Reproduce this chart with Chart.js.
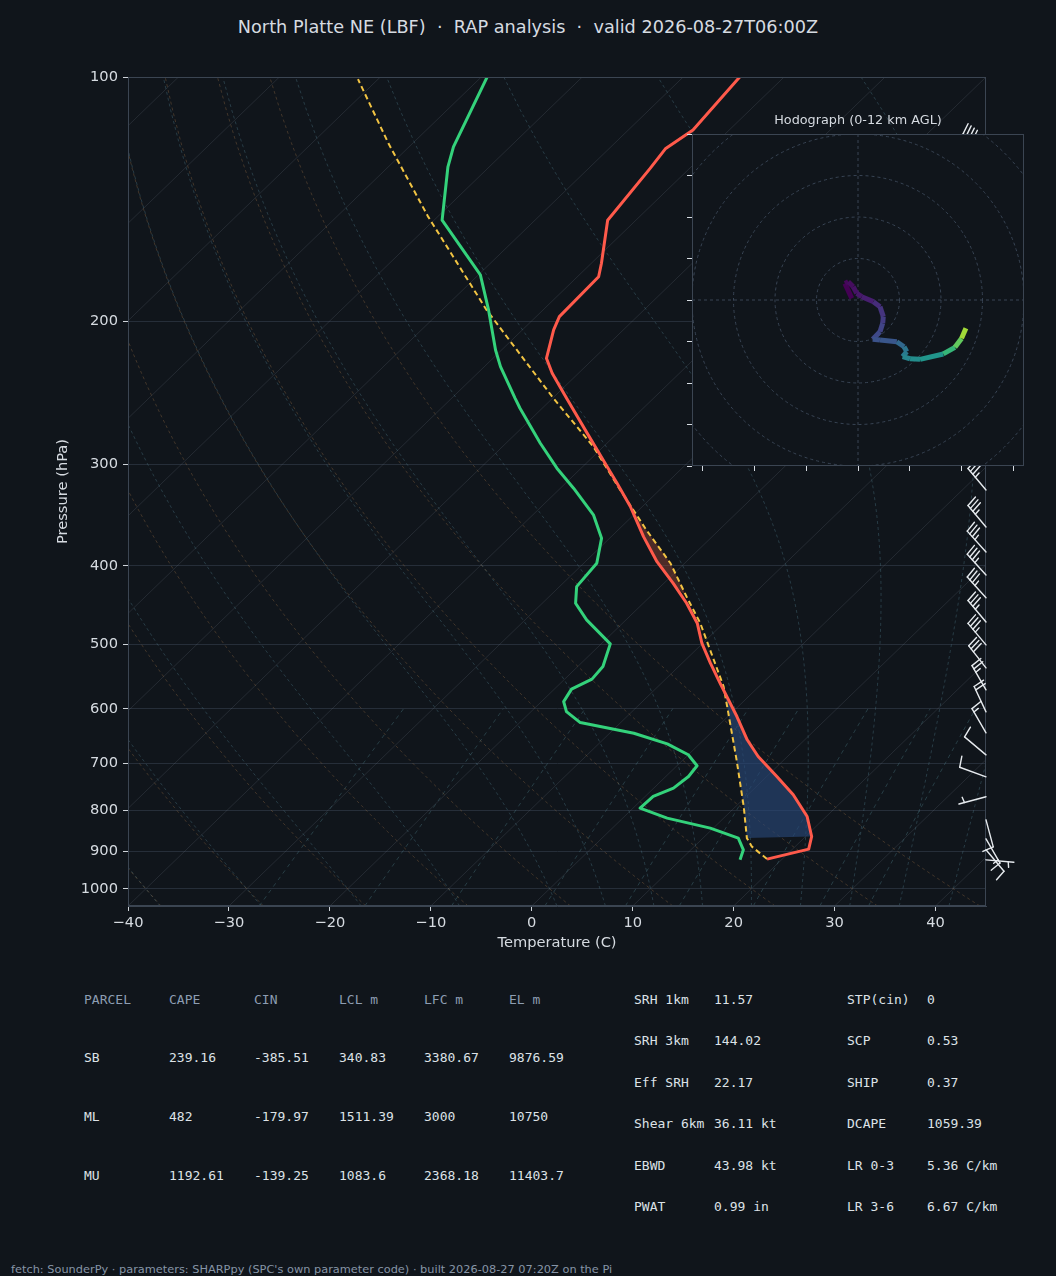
<!DOCTYPE html>
<html>
<head>
<meta charset="utf-8">
<title>Skew-T LBF</title>
<script src="https://cdn.jsdelivr.net/npm/chart.js@4.4.1/dist/chart.umd.min.js"></script>
<style>
  html, body { margin: 0; padding: 0; background: #10151b; }
  body { width: 1056px; height: 1276px; position: relative; overflow: hidden; font-family: "DejaVu Sans", sans-serif; color: #d6dbe1; }
  #title { position: absolute; left: 0; top: 16px; width: 1056px; text-align: center; font-size: 17.7px; line-height: 22px; white-space: pre; }
  #skew { position: absolute; left: 0; top: 0; }
  #hodo { position: absolute; left: 662px; top: 106px; }
  #hodoTitle { position: absolute; left: 708px; width: 300px; top: 112px; text-align: center; font-size: 12.8px; line-height: 16px; }
  .cell { position: absolute; font-family: "DejaVu Sans Mono", monospace; font-size: 13px; line-height: 16px; white-space: pre; }
  #foot { position: absolute; left: 11px; top: 1262px; font-size: 11.35px; line-height: 14px; color: #8694a6; white-space: pre; }
</style>
</head>
<body>
<div id="title">North Platte NE (LBF)  ·  RAP analysis  ·  valid 2026-08-27T06:00Z</div>
<canvas id="skew" width="1056" height="960"></canvas>
<canvas id="hodo" width="372" height="374"></canvas>
<div id="hodoTitle">Hodograph (0-12 km AGL)</div>
<div id="tables"></div>
<div id="foot">fetch: SounderPy · parameters: SHARPpy (SPC's own parameter code) · built 2026-08-27 07:20Z on the Pi</div>
<script>
// sounding, surface upward (hPa / degC)
const tempP = [919.2, 893.5, 862.1, 814.5, 765.9, 727.2, 687.1, 655.3, 613.5, 558.0, 527.3, 498.2, 470.8, 444.9, 420.3, 395.4, 368.3, 338.1, 316.5, 301.9, 274.6, 248.8, 231.7, 222.1, 204.9, 197.3, 176.2, 169.6, 150.1, 129.6, 122.6, 116.2, 100];
const tempC = [18.5, 21.6, 20.6, 18.1, 14.5, 11.0, 7.1, 4.3, 0.9, -4.2, -7.2, -10.1, -12.6, -15.7, -19.1, -22.9, -26.8, -31.2, -34.9, -37.6, -43.0, -48.6, -52.6, -54.7, -56.9, -57.7, -57.9, -59.0, -62.8, -63.9, -64.4, -63.6, -64.4];

const dwptP = [921.1, 895.3, 866.1, 841.9, 818.3, 795.6, 769.6, 751.5, 727.2, 705.5, 683.8, 662.9, 643.2, 624.1, 604.9, 588.0, 567.6, 551.7, 532.4, 499.2, 466.4, 444.9, 424.4, 397.2, 369.9, 346.2, 321.0, 303.3, 282.6, 255.9, 248.8, 227.4, 216.9, 193.6, 175.3, 150.1, 129.0, 121.9, 100.1];
const dwptC = [15.9, 15.2, 13.5, 9.7, 4.4, 0.7, 0.8, 1.95, 2.25, 2.0, 0.0, -3.2, -7.6, -14.0, -16.5, -17.8, -18.3, -17.3, -17.5, -19.1, -23.9, -26.7, -28.3, -28.7, -30.8, -34.0, -38.7, -42.4, -46.6, -52.2, -53.7, -58.4, -60.6, -65.4, -69.8, -79.2, -84.1, -85.6, -89.4];

const parcelP = [919.2, 887.0, 866.1, 791.9, 693.6, 607.6, 563.4, 470.8, 436.5, 397.2, 361.4, 322.6, 285.3, 248.8, 193.6, 148.6, 120.7, 100.6];
const parcelC = [18.5, 15.7, 14.35, 10.8, 5.3, -0.3, -3.5, -12.3, -16.4, -21.4, -27.2, -33.9, -41.0, -49.9, -65.6, -80.95, -92.4, -102.0];

// wind barbs: pressure, direction (deg from), speed (kt)
const barbP =   [123, 150, 175, 200, 225, 250, 275, 300, 322.6, 358.3, 384.6, 410.6, 438.1, 469.1, 500.6, 534.4, 568.8, 605.4, 642.6, 683.9, 727.9, 770.2, 822.3, 867.8, 895.3, 921.1];
const barbDir = [305, 300, 300, 298, 300, 305, 310, 315, 320, 320, 318, 318, 318, 320, 320, 322, 330, 335, 330, 310, 290, 255, 165, 150, 140, 95];
const barbSpd = [40, 50, 55, 55, 50, 45, 40, 35, 35, 35, 35, 35, 35, 35, 35, 30, 25, 20, 15, 10, 10, 5, 10, 15, 10, 5];

// hodograph (kt) and height (km AGL)
const hodoU = [-3.0, -6.3, -4.7, -2.3, -0.6, 1.8, 7.4, 10.6, 12.2, 11.9, 10.6, 7.1, 10.6, 18.7, 22.2, 23.5, 21.5, 25.1, 29.9, 41.1, 46.7, 49.9, 52.0];
const hodoV = [0.8, 8.0, 8.8, 6.4, 3.2, 1.6, -0.8, -3.2, -8.0, -11.2, -15.3, -18.9, -19.3, -20.1, -22.5, -24.9, -27.3, -28.3, -28.6, -26.0, -22.8, -18.5, -13.6];
const hodoZ = [0, 0.2, 0.4, 0.6, 0.8, 1.0, 1.5, 1.8, 2.1, 2.4, 2.6, 3.0, 3.2, 4.0, 4.6, 4.9, 5.4, 5.8, 6.2, 7.9, 9.1, 10.3, 12.0];

const pTicks = [100, 200, 300, 400, 500, 600, 700, 800, 900, 1000];
const tTicks = [-40, -30, -20, -10, 0, 10, 20, 30, 40];

// text tables
const parcelHead = ['PARCEL', 'CAPE', 'CIN', 'LCL m', 'LFC m', 'EL m'];
const parcelRows = [
  ['SB', '239.16', '-385.51', '340.83', '3380.67', '9876.59'],
  ['ML', '482', '-179.97', '1511.39', '3000', '10750'],
  ['MU', '1192.61', '-139.25', '1083.6', '2368.18', '11403.7']
];
const statRows = [
  ['SRH 1km', '11.57', 'STP(cin)', '0'],
  ['SRH 3km', '144.02', 'SCP', '0.53'],
  ['Eff SRH', '22.17', 'SHIP', '0.37'],
  ['Shear 6km', '36.11 kt', 'DCAPE', '1059.39'],
  ['EBWD', '43.98 kt', 'LR 0-3', '5.36 C/km'],
  ['PWAT', '0.99 in', 'LR 3-6', '6.67 C/km']
];

const BG = '#10151b';
const TXT = '#d6dbe1';
const SPINE = '#3b4552';

// skew-T transform: 45 deg in axes space
const X0 = -40, X1 = 45, PBOT = 1050, PTOP = 100;
function skx(t, p) { return t + (X1 - X0) * Math.log(PBOT / p) / Math.log(PBOT / PTOP); }
function pts(P, T) { return P.map((p, i) => ({ x: skx(T[i], p), y: p })); }
function between(P, T, lo, hi) { return pts(P, T).filter(d => d.y >= lo && d.y <= hi); }

// thermodynamic reference lines
const RD = 287.04749, CPD = 1004.6662, LV = 2.50084e6, EPS = 0.62196;
const bgP = [];
for (let p = 1050; p >= 100; p -= 10) bgP.push(p);
const mixP = [];
for (let p = 1050; p >= 600; p -= 10) mixP.push(p);

function dryLine(t0) {
  return bgP.map(p => ({ x: skx((t0 + 273.15) * Math.pow(p / 1000, RD / CPD) - 273.15, p), y: p }));
}
function satMix(p, T) {
  const es = 6.112 * Math.exp(17.67 * (T - 273.15) / (T - 29.65));
  return EPS * es / (p - es);
}
function dTdp(p, T) {
  const rs = satMix(p, T);
  return (RD * T + LV * rs) / (CPD + LV * LV * rs * EPS / (RD * T * T)) / p;
}
function moistLine(t0) {
  const out = new Map();
  out.set(1000, t0 + 273.15);
  [[-5, 100], [5, 1050]].forEach(([h, pEnd]) => {
    let p = 1000, T = t0 + 273.15;
    while ((h < 0 && p > pEnd) || (h > 0 && p < pEnd)) {
      const k1 = dTdp(p, T), k2 = dTdp(p + h / 2, T + h / 2 * k1);
      const k3 = dTdp(p + h / 2, T + h / 2 * k2), k4 = dTdp(p + h, T + h * k3);
      T += h / 6 * (k1 + 2 * k2 + 2 * k3 + k4);
      p += h;
      if (Math.round(p) % 10 === 0) out.set(Math.round(p), T);
    }
  });
  return bgP.map(p => ({ x: skx(out.get(p) - 273.15, p), y: p }));
}
function mixLine(w) {
  return mixP.map(p => {
    const e = w * p / (EPS + w), l = Math.log(e / 6.112);
    return { x: skx(243.5 * l / (17.67 - l), p), y: p };
  });
}

function bgSet(data, color, dash, order) {
  return { data, borderColor: color, borderWidth: 0.9, borderDash: dash, pointRadius: 0, fill: false, order };
}

const datasets = [];
for (let t = -130; t <= 40; t += 10) {
  datasets.push(bgSet([{ x: skx(t, PBOT), y: PBOT }, { x: skx(t, PTOP), y: PTOP }], 'rgba(120,132,146,0.22)', [], 50));
}
for (let t = -40; t <= 40; t += 10) datasets.push(bgSet(dryLine(t), 'rgba(150,110,70,0.42)', [3, 3], 40));
[-40, -30, -20, -10, 0, 5, 10, 15, 20, 25, 30, 35, 40, 45].forEach(t => datasets.push(bgSet(moistLine(t), 'rgba(80,125,140,0.42)', [3, 3], 40)));
[0.0004, 0.001, 0.002, 0.004, 0.007, 0.01, 0.016, 0.024, 0.032].forEach(w => datasets.push(bgSet(mixLine(w), 'rgba(80,130,140,0.42)', [4, 4], 40)));

// CIN (blue) and CAPE (red) shading built from the profiles
const cinPoly = between(tempP, tempC, 555, 865).concat(between(parcelP, parcelC, 555, 870).reverse());
const capePoly = between(tempP, tempC, 330, 425).concat(between(parcelP, parcelC, 330, 440).reverse());
datasets.push({ data: cinPoly, fill: 'shape', backgroundColor: 'rgba(40,72,122,0.62)', borderWidth: 0, pointRadius: 0, order: 20 });
datasets.push({ data: capePoly, fill: 'shape', backgroundColor: 'rgba(150,70,55,0.45)', borderWidth: 0, pointRadius: 0, order: 20 });

datasets.push({ data: pts(parcelP, parcelC), borderColor: '#f2c443', borderWidth: 2, borderDash: [5.5, 3.5], pointRadius: 0, fill: false, order: 3 });
datasets.push({ data: pts(dwptP, dwptC), borderColor: '#34d27b', borderWidth: 3, pointRadius: 0, fill: false, order: 2, borderJoinStyle: 'round' });
datasets.push({ data: pts(tempP, tempC), borderColor: '#ff5a4b', borderWidth: 3, pointRadius: 0, fill: false, order: 1, borderJoinStyle: 'round' });

function drawBarb(ctx, x0, y0, dir, spd) {
  const L = 28, a = dir * Math.PI / 180;
  const ux = Math.sin(a), uy = -Math.cos(a);
  const px = Math.cos(a), py = Math.sin(a);
  const tx = x0 + L * ux, ty = y0 + L * uy;
  const B = 11.2, W = 3.5, SP = 3.8;
  ctx.beginPath();
  ctx.moveTo(x0, y0);
  ctx.lineTo(tx, ty);
  ctx.stroke();
  let s = Math.round(spd / 5) * 5, off = 0;
  let nf = Math.floor(s / 50); s -= nf * 50;
  let nb = Math.floor(s / 10); s -= nb * 10;
  const half = s >= 5;
  for (let i = 0; i < nf; i++) {
    const bx = tx - off * ux, by = ty - off * uy;
    ctx.beginPath();
    ctx.moveTo(bx, by);
    ctx.lineTo(bx + B * px - W / 2 * ux, by + B * py - W / 2 * uy);
    ctx.lineTo(bx - W * ux, by - W * uy);
    ctx.closePath();
    ctx.fill();
    off += W + SP;
  }
  if (nf === 0 && nb === 0) off = 1.5 * SP;
  for (let i = 0; i < nb; i++) {
    const bx = tx - off * ux, by = ty - off * uy;
    ctx.beginPath();
    ctx.moveTo(bx, by);
    ctx.lineTo(bx + B * px + W / 2 * ux, by + B * py + W / 2 * uy);
    ctx.stroke();
    off += SP;
  }
  if (half) {
    const bx = tx - off * ux, by = ty - off * uy;
    ctx.beginPath();
    ctx.moveTo(bx, by);
    ctx.lineTo(bx + B / 2 * px + W / 4 * ux, by + B / 2 * py + W / 4 * uy);
    ctx.stroke();
  }
}

const framePlugin = {
  id: 'frame',
  afterDatasetsDraw(chart) {
    const { ctx, chartArea: c } = chart;
    ctx.save();
    ctx.strokeStyle = SPINE;
    ctx.lineWidth = 1;
    ctx.strokeRect(c.left + 0.5, c.top + 0.5, c.width - 1, c.height - 1);
    ctx.restore();
  }
};
const barbPlugin = {
  id: 'barbs',
  afterDraw(chart) {
    const { ctx, chartArea: c, scales: { y } } = chart;
    ctx.save();
    ctx.strokeStyle = '#e6eaee';
    ctx.fillStyle = '#e6eaee';
    ctx.lineWidth = 1.4;
    ctx.lineCap = 'round';
    barbP.forEach((p, i) => drawBarb(ctx, c.right, y.getPixelForValue(p), barbDir[i], barbSpd[i]));
    ctx.restore();
  }
};

Chart.defaults.font.family = '"DejaVu Sans", sans-serif';
Chart.defaults.color = TXT;

new Chart(document.getElementById('skew'), {
  type: 'line',
  data: { datasets },
  options: {
    responsive: false,
    animation: false,
    events: [],
    layout: { padding: { left: 50, right: 70, top: 77, bottom: 4 } },
    plugins: { legend: { display: false }, tooltip: { enabled: false } },
    scales: {
      x: {
        type: 'linear', min: X0, max: X1,
        afterBuildTicks: s => { s.ticks = tTicks.map(v => ({ value: v })); },
        afterFit: s => { s.height = 50; },
        ticks: { color: TXT, font: { size: 14.67 }, padding: 3, maxRotation: 0, autoSkip: false,
                 callback: v => v < 0 ? '\u2212' + Math.abs(v) : String(v) },
        grid: { drawOnChartArea: false, tickLength: 5, tickColor: '#cfd4da' },
        border: { color: SPINE },
        title: { display: true, text: 'Temperature (C)', color: TXT, font: { size: 14.67 } }
      },
      y: {
        type: 'logarithmic', reverse: true, min: PTOP, max: PBOT,
        afterBuildTicks: s => { s.ticks = pTicks.map(v => ({ value: v })); },
        afterFit: s => { s.width = 78; },
        ticks: { color: TXT, font: { size: 14.67 }, padding: 5, autoSkip: false, callback: v => String(v) },
        grid: { color: '#262e39', lineWidth: 1, tickLength: 5, tickColor: '#cfd4da' },
        border: { color: SPINE },
        title: { display: true, text: 'Pressure (hPa)', color: TXT, font: { size: 14.67 } }
      }
    }
  },
  plugins: [framePlugin, barbPlugin]
});

// hodograph inset
const VIR = ['#440154', '#482475', '#414487', '#355f8d', '#2a788e', '#21918c', '#22a884', '#44bf70', '#7ad151', '#bddf26', '#fde725'];
function hexRgb(h) { return [1, 3, 5].map(i => parseInt(h.substr(i, 2), 16)); }
function viridis(f) {
  f = Math.max(0, Math.min(1, f));
  const i = Math.min(9, Math.floor(f * 10)), t = f * 10 - i;
  const a = hexRgb(VIR[i]), b = hexRgb(VIR[i + 1]);
  return 'rgb(' + a.map((v, k) => Math.round(v + (b[k] - v) * t)).join(',') + ')';
}

const hodoPlugin = {
  id: 'hodoBg',
  beforeDraw(chart) {
    const { ctx, chartArea: c } = chart;
    ctx.save();
    ctx.fillStyle = BG;
    ctx.fillRect(c.left, c.top, c.width, c.height);
    ctx.restore();
  },
  beforeDatasetsDraw(chart) {
    const { ctx, chartArea: c, scales: { x, y } } = chart;
    const cx = x.getPixelForValue(0), cy = y.getPixelForValue(0);
    const k = c.width / 160;
    ctx.save();
    ctx.beginPath();
    ctx.rect(c.left, c.top, c.width, c.height);
    ctx.clip();
    ctx.strokeStyle = '#384454';
    ctx.lineWidth = 1;
    ctx.setLineDash([3, 3]);
    for (let r = 20; r <= 120; r += 20) {
      ctx.beginPath();
      ctx.arc(cx, cy, r * k, 0, Math.PI * 2);
      ctx.stroke();
    }
    ctx.beginPath();
    ctx.moveTo(c.left, cy); ctx.lineTo(c.right, cy);
    ctx.moveTo(cx, c.top); ctx.lineTo(cx, c.bottom);
    ctx.stroke();
    ctx.restore();
  },
  afterDatasetsDraw(chart) {
    const { ctx, chartArea: c } = chart;
    ctx.save();
    ctx.strokeStyle = SPINE;
    ctx.lineWidth = 1;
    ctx.strokeRect(c.left + 0.5, c.top + 0.5, c.width - 1, c.height - 1);
    ctx.restore();
  }
};

new Chart(document.getElementById('hodo'), {
  type: 'line',
  data: {
    datasets: [{
      data: hodoU.map((u, i) => ({ x: u, y: hodoV[i] })),
      borderWidth: 5, pointRadius: 0, fill: false,
      borderColor: viridis(0), borderJoinStyle: 'round', borderCapStyle: 'butt',
      segment: { borderColor: c => viridis(hodoZ[c.p0DataIndex] / 12) }
    }]
  },
  options: {
    responsive: false,
    animation: false,
    events: [],
    layout: { padding: { left: 0, right: 10, top: 28, bottom: 4 } },
    plugins: { legend: { display: false }, tooltip: { enabled: false } },
    scales: {
      x: {
        type: 'linear', min: -80, max: 80,
        afterBuildTicks: s => { s.ticks = [-75, -50, -25, 0, 25, 50, 75].map(v => ({ value: v })); },
        afterFit: s => { s.height = 10; },
        ticks: { display: false },
        grid: { drawOnChartArea: false, tickLength: 5, tickColor: '#d8dde3' },
        border: { display: false }
      },
      y: {
        type: 'linear', min: -80, max: 80,
        afterBuildTicks: s => { s.ticks = [-80, -60, -40, -20, 0, 20, 40, 60, 80].map(v => ({ value: v })); },
        afterFit: s => { s.width = 30; },
        ticks: { display: false },
        grid: { drawOnChartArea: false, tickLength: 5, tickColor: '#d8dde3' },
        border: { display: false }
      }
    }
  },
  plugins: [hodoPlugin]
});

// text tables below the diagram
const parcelColX = [84, 169, 254, 339, 424, 509];
const parcelRowY = [1000, 1058, 1117, 1176];
const statColX = [634, 714, 847, 927];
const statRowY = [1000, 1041, 1083, 1124, 1166, 1207];
const box = document.getElementById('tables');
function cell(text, x, y, color) {
  const d = document.createElement('div');
  d.className = 'cell';
  d.textContent = text;
  d.style.left = x + 'px';
  d.style.top = (y - 8) + 'px';
  d.style.color = color;
  box.appendChild(d);
}
parcelHead.forEach((t, j) => cell(t, parcelColX[j], parcelRowY[0], '#8d9db2'));
parcelRows.forEach((row, i) => row.forEach((t, j) => cell(t, parcelColX[j], parcelRowY[i + 1], '#dde2e7')));
statRows.forEach((row, i) => row.forEach((t, j) => cell(t, statColX[j], statRowY[i], '#dde2e7')));
</script>
</body>
</html>
